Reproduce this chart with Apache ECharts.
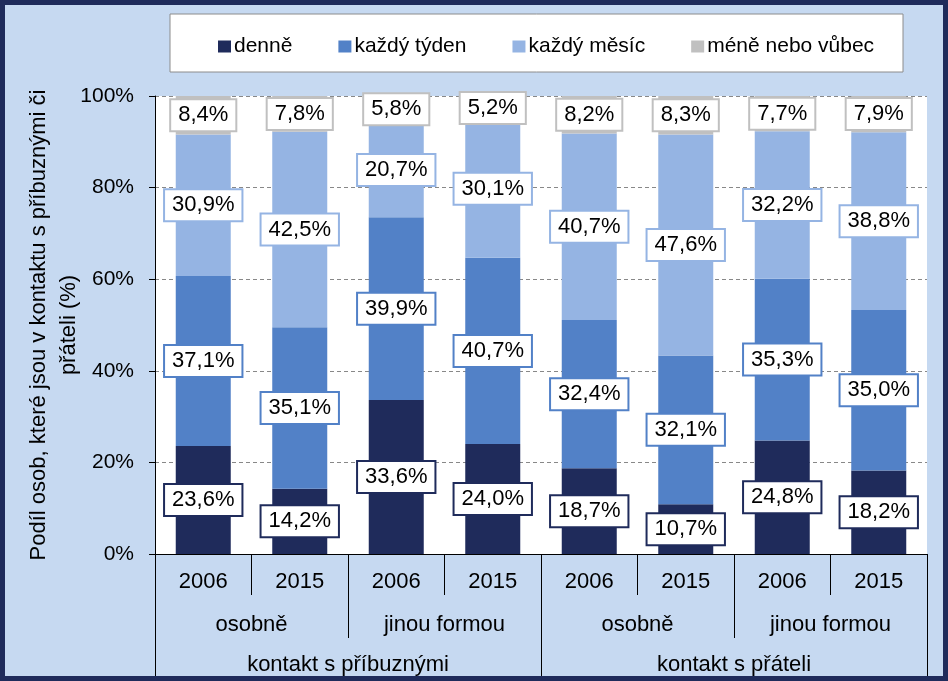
<!DOCTYPE html>
<html>
<head>
<meta charset="utf-8">
<script src="https://cdn.jsdelivr.net/npm/echarts@6/dist/echarts.min.js"></script>
<style>
html,body{margin:0;padding:0;background:#c6d9f1;}
#c{width:948px;height:681px;}
</style>
</head>
<body>
<div id="c"></div>
<script>
const years = ['2006','2015','2006','2015','2006','2015','2006','2015'];
const forms = ['osobně','jinou formou','osobně','jinou formou'];
const groups = ['kontakt s příbuznými','kontakt s přáteli'];
const seriesNames = ['denně','každý týden','každý měsíc','méně nebo vůbec'];
const denne = [23.6, 14.2, 33.6, 24.0, 18.7, 10.7, 24.8, 18.2];
const tyden = [37.1, 35.1, 39.9, 40.7, 32.4, 32.1, 35.3, 35.0];
const mesic = [30.9, 42.5, 20.7, 30.1, 40.7, 47.6, 32.2, 38.8];
const mene  = [8.4, 7.8, 5.8, 5.2, 8.2, 8.3, 7.7, 7.9];

const colors = ['#1f2b5b', '#5281c7', '#95b4e3', '#c0c0c0'];
const FONT = 'Liberation Sans, Arial, sans-serif';

// 100% stacked column: each column is shown as share of its total
const totals = denne.map((_, i) => denne[i] + tyden[i] + mesic[i] + mene[i]);

function mk(name, data, color) {
  return {
    name: name, type: 'bar', stack: 'a', barWidth: 55,
    data: data.map((v, i) => ({ value: v / totals[i] * 100, raw: v })),
    itemStyle: { color: color },
    label: {
      show: true, position: 'inside',
      formatter: p => p.data.raw.toFixed(1).replace('.', ',') + '%',
      color: '#000', fontSize: 22, fontFamily: FONT, lineHeight: 22,
      backgroundColor: '#fff', borderColor: color, borderWidth: 2,
      padding: [4, 7, 4, 7]
    }
  };
}

const chart = echarts.init(document.getElementById('c'), null, { renderer: 'canvas' });
chart.setOption({
  animation: false,
  backgroundColor: '#c6d9f1',
  textStyle: { fontFamily: FONT },
  graphic: [
    { type: 'rect', z: -1, shape: { x: 170, y: 14, width: 733, height: 58 },
      style: { fill: '#fff', stroke: '#8c8c8c', lineWidth: 1 } },
    { type: 'rect', z: 100, shape: { x: 2.5, y: 2.5, width: 943, height: 676 },
      style: { fill: 'none', stroke: '#1f2b5b', lineWidth: 5 } }
  ],
  legend: {
    top: 31, left: 213, itemGap: 46, itemWidth: 13, itemHeight: 12,
    icon: 'rect',
    textStyle: { fontSize: 21, color: '#000', fontFamily: FONT, padding: [0, 0, 0, -2] },
    data: seriesNames
  },
  grid: { left: 155, right: 21, top: 96, bottom: 127, show: true, backgroundColor: '#fff', borderWidth: 0, containLabel: false },
  yAxis: {
    type: 'value', min: 0, max: 100, interval: 20,
    name: 'Podíl osob, které jsou v kontaktu s příbuznými či\npřáteli (%)',
    nameLocation: 'middle', nameGap: 71, nameRotate: 90, nameMoveOverlap: false,
    nameTextStyle: { fontSize: 22, color: '#000', fontFamily: FONT, lineHeight: 30 },
    axisLine: { show: true, lineStyle: { color: '#000', width: 1 } },
    axisTick: { show: true, length: 6, lineStyle: { color: '#000' } },
    axisLabel: { fontSize: 21, color: '#000', margin: 21, formatter: v => v + '%', fontFamily: FONT },
    splitLine: { show: true, lineStyle: { color: '#888', type: [4, 3], width: 1 } }
  },
  xAxis: [
    { type: 'category', data: years, position: 'bottom',
      axisLine: { show: true, lineStyle: { color: '#000', width: 1 } },
      axisTick: { show: true, length: 41, lineStyle: { color: '#000' } },
      axisLabel: { interval: 0, fontSize: 22, color: '#000', margin: 17, fontFamily: FONT } },
    { type: 'category', data: forms, position: 'bottom',
      axisLine: { show: false },
      axisTick: { show: true, length: 84, lineStyle: { color: '#000' } },
      axisLabel: { interval: 0, fontSize: 22, color: '#000', margin: 60, fontFamily: FONT } },
    { type: 'category', data: groups, position: 'bottom',
      axisLine: { show: false },
      axisTick: { show: true, length: 130, lineStyle: { color: '#000' } },
      axisLabel: { interval: 0, fontSize: 22, color: '#000', margin: 100, fontFamily: FONT } }
  ],
  series: [
    mk(seriesNames[0], denne, colors[0]),
    mk(seriesNames[1], tyden, colors[1]),
    mk(seriesNames[2], mesic, colors[2]),
    mk(seriesNames[3], mene, colors[3])
  ]
});
</script>
</body>
</html>
